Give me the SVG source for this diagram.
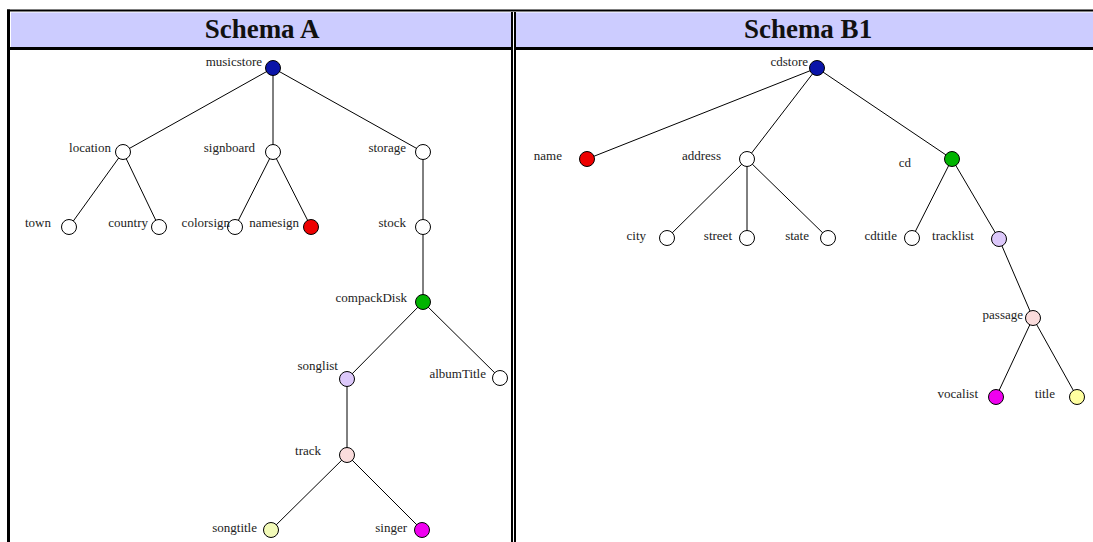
<svg xmlns="http://www.w3.org/2000/svg" width="1093" height="542" viewBox="0 0 1093 542">
  <style>
    .hdr { font-family: "Liberation Serif", "Times New Roman", serif; font-size: 27px; font-weight: bold; fill: #111; text-anchor: middle; }
    .lbl { font-family: "Liberation Serif", "Times New Roman", serif; font-size: 13px; fill: #222; text-anchor: end; }
    .node circle { stroke: #000; stroke-width: 1; }
    #edges line { stroke: #000; stroke-width: 1; }
    .white { fill: #ffffff; }
    .blue { fill: #0a14a8; }
    .red { fill: #ee0000; }
    .green { fill: #00b400; }
    .lav { fill: #dcc8fa; }
    .pink { fill: #fadcdc; }
    .lime { fill: #f2fab8; }
    .yel { fill: #ffffa0; }
    .mag { fill: #f000f0; }
  </style>

  <!-- page background -->
  <rect x="0" y="0" width="1093" height="542" fill="#ffffff"/>

  <!-- table frame -->
  <g id="frame">
    <rect x="11" y="12.5" width="500" height="35" fill="#ccccff"/>
    <rect x="516" y="12.5" width="577" height="35" fill="#ccccff"/>
    <rect x="7" y="9.5" width="1086" height="2" fill="#000"/>
    <rect x="7" y="9.5" width="3" height="533" fill="#000"/>
    <rect x="10" y="47" width="501" height="3" fill="#000"/>
    <rect x="516" y="47" width="577" height="3" fill="#000"/>
    <rect x="511" y="12" width="2" height="530" fill="#000"/>
    <rect x="514" y="12" width="2" height="530" fill="#000"/>
    <text class="hdr" x="262" y="38">Schema A</text>
    <text class="hdr" x="808" y="38">Schema B1</text>
  </g>

  <!-- tree edges -->
  <g id="edges">
    <!-- Schema A -->
    <line x1="273" y1="68" x2="123" y2="152"/>
    <line x1="273" y1="68" x2="273" y2="152"/>
    <line x1="273" y1="68" x2="423" y2="152"/>
    <line x1="123" y1="152" x2="69" y2="227"/>
    <line x1="123" y1="152" x2="159" y2="227"/>
    <line x1="273" y1="152" x2="235" y2="227"/>
    <line x1="273" y1="152" x2="311" y2="227"/>
    <line x1="423" y1="152" x2="423" y2="227"/>
    <line x1="423" y1="227" x2="423" y2="302"/>
    <line x1="423" y1="302" x2="347" y2="379"/>
    <line x1="423" y1="302" x2="500" y2="378"/>
    <line x1="347" y1="379" x2="347" y2="455"/>
    <line x1="347" y1="455" x2="271" y2="530"/>
    <line x1="347" y1="455" x2="422" y2="530"/>
    <!-- Schema B1 -->
    <line x1="817" y1="68" x2="587" y2="159"/>
    <line x1="817" y1="68" x2="747" y2="159"/>
    <line x1="817" y1="68" x2="952" y2="159"/>
    <line x1="747" y1="159" x2="667" y2="238"/>
    <line x1="747" y1="159" x2="747" y2="238"/>
    <line x1="747" y1="159" x2="828" y2="238"/>
    <line x1="952" y1="159" x2="912" y2="238"/>
    <line x1="952" y1="159" x2="999" y2="239"/>
    <line x1="999" y1="239" x2="1033" y2="318"/>
    <line x1="1033" y1="318" x2="996" y2="397"/>
    <line x1="1033" y1="318" x2="1077" y2="397"/>
  </g>

  <!-- Schema A nodes -->
  <g id="musicstore" class="node"><circle class="blue" cx="273" cy="68" r="7.5"/><text class="lbl" x="262" y="66">musicstore</text></g>
  <g id="location" class="node"><circle class="white" cx="123" cy="152" r="7.5"/><text class="lbl" x="111" y="152">location</text></g>
  <g id="signboard" class="node"><circle class="white" cx="273" cy="152" r="7.5"/><text class="lbl" x="255" y="152">signboard</text></g>
  <g id="storage" class="node"><circle class="white" cx="423" cy="152" r="7.5"/><text class="lbl" x="406" y="152">storage</text></g>
  <g id="town" class="node"><circle class="white" cx="69" cy="227" r="7.5"/><text class="lbl" x="51" y="227">town</text></g>
  <g id="country" class="node"><circle class="white" cx="159" cy="227" r="7.5"/><text class="lbl" x="148" y="227">country</text></g>
  <g id="colorsign" class="node"><circle class="white" cx="235" cy="227" r="7.5"/><text class="lbl" x="230" y="227">colorsign</text></g>
  <g id="namesign" class="node"><circle class="red" cx="311" cy="227" r="7.5"/><text class="lbl" x="299" y="227">namesign</text></g>
  <g id="stock" class="node"><circle class="white" cx="423" cy="227" r="7.5"/><text class="lbl" x="406" y="227">stock</text></g>
  <g id="compackDisk" class="node"><circle class="green" cx="423" cy="302" r="7.5"/><text class="lbl" x="407" y="302">compackDisk</text></g>
  <g id="songlist" class="node"><circle class="lav" cx="347" cy="379" r="7.5"/><text class="lbl" x="338" y="370">songlist</text></g>
  <g id="albumTitle" class="node"><circle class="white" cx="500" cy="378" r="7.5"/><text class="lbl" x="486" y="378">albumTitle</text></g>
  <g id="track" class="node"><circle class="pink" cx="347" cy="455" r="7.5"/><text class="lbl" x="321" y="455">track</text></g>
  <g id="songtitle" class="node"><circle class="lime" cx="271" cy="530" r="7.5"/><text class="lbl" x="257" y="532">songtitle</text></g>
  <g id="singer" class="node"><circle class="mag" cx="422" cy="530" r="7.5"/><text class="lbl" x="407" y="532">singer</text></g>

  <!-- Schema B1 nodes -->
  <g id="cdstore" class="node"><circle class="blue" cx="817" cy="68" r="7.5"/><text class="lbl" x="808" y="66">cdstore</text></g>
  <g id="name" class="node"><circle class="red" cx="587" cy="159" r="7.5"/><text class="lbl" x="562" y="160">name</text></g>
  <g id="address" class="node"><circle class="white" cx="747" cy="159" r="7.5"/><text class="lbl" x="721" y="160">address</text></g>
  <g id="cd" class="node"><circle class="green" cx="952" cy="159" r="7.5"/><text class="lbl" x="911" y="167">cd</text></g>
  <g id="city" class="node"><circle class="white" cx="667" cy="238" r="7.5"/><text class="lbl" x="646" y="240">city</text></g>
  <g id="street" class="node"><circle class="white" cx="747" cy="238" r="7.5"/><text class="lbl" x="732" y="240">street</text></g>
  <g id="state" class="node"><circle class="white" cx="828" cy="238" r="7.5"/><text class="lbl" x="809" y="240">state</text></g>
  <g id="cdtitle" class="node"><circle class="white" cx="912" cy="238" r="7.5"/><text class="lbl" x="897" y="240">cdtitle</text></g>
  <g id="tracklist" class="node"><circle class="lav" cx="999" cy="239" r="7.5"/><text class="lbl" x="974" y="240">tracklist</text></g>
  <g id="passage" class="node"><circle class="pink" cx="1033" cy="318" r="7.5"/><text class="lbl" x="1023" y="319">passage</text></g>
  <g id="vocalist" class="node"><circle class="mag" cx="996" cy="397" r="7.5"/><text class="lbl" x="978" y="398">vocalist</text></g>
  <g id="title" class="node"><circle class="yel" cx="1077" cy="397" r="7.5"/><text class="lbl" x="1055" y="398">title</text></g>
</svg>
